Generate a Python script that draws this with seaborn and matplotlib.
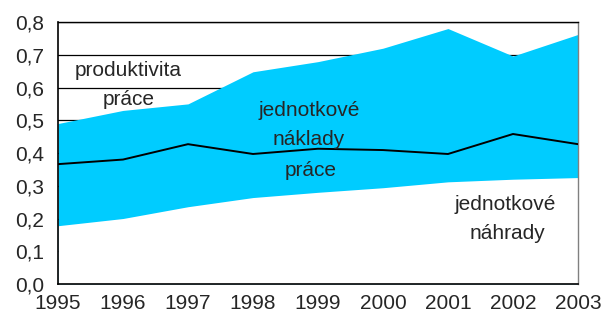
import matplotlib
matplotlib.use("Agg")
import matplotlib.pyplot as plt
import seaborn as sns
import pandas as pd

years = [1995, 1996, 1997, 1998, 1999, 2000, 2001, 2002, 2003]
produktivita = [0.49, 0.53, 0.55, 0.648, 0.679, 0.72, 0.78, 0.696, 0.762]
naklady = [0.366, 0.38, 0.427, 0.397, 0.413, 0.409, 0.397, 0.458, 0.427]
nahrady = [0.178, 0.20, 0.236, 0.264, 0.28, 0.294, 0.312, 0.32, 0.325]
y_ticks = [0.0, 0.1, 0.2, 0.3, 0.4, 0.5, 0.6, 0.7, 0.8]

sns.set_style("white")
plt.rcParams["font.family"] = ["Liberation Sans", "DejaVu Sans"]

df = pd.DataFrame({"rok": years, "produktivita": produktivita,
                   "naklady": naklady, "nahrady": nahrady})

fig = plt.figure(figsize=(6.03, 3.23), dpi=100)
ax = fig.add_axes([0.0962, 0.1207, 0.8623, 0.8112])

# horizontal grid, covered by the areas
for v in y_ticks[1:]:
    ax.axhline(v, color="black", lw=0.9, zorder=0)

# cyan area up to productivity, white area up to compensation on top of it
ax.fill_between(df["rok"], 0, df["produktivita"],
                color="#00CCFF", lw=0, zorder=1)
ax.fill_between(df["rok"], 0, df["nahrady"], color="white", lw=0, zorder=2)
sns.lineplot(data=df, x="rok", y="naklady", color="black", lw=1.4,
             ax=ax, zorder=3)

ax.set_xlim(1995, 2003)
ax.set_ylim(0, 0.8)
ax.set_xticks(years)
ax.set_xticklabels([str(y) for y in years])
ax.set_yticks(y_ticks)
ax.set_yticklabels([f"{v:.1f}".replace(".", ",") for v in y_ticks])
ax.set_xlabel("")
ax.set_ylabel("")
ax.tick_params(axis="both", direction="out", length=5, width=1,
               color="black", labelsize=15)
ax.tick_params(axis="y", pad=5)
ax.tick_params(axis="x", pad=2)

for side in ["left", "bottom"]:
    ax.spines[side].set_color("black")
    ax.spines[side].set_linewidth(1.2)
    ax.spines[side].set_zorder(4)
ax.spines["top"].set_color("black")
ax.spines["top"].set_linewidth(1.0)
ax.spines["right"].set_color("#808080")
ax.spines["right"].set_linewidth(1.0)

fs = 15
ax.text(1996.08, 0.653, "produktivita", ha="center", va="center", fontsize=fs)
ax.text(1996.08, 0.562, "práce", ha="center", va="center", fontsize=fs)
ax.text(1998.86, 0.531, "jednotkové", ha="center", va="center", fontsize=fs)
ax.text(1998.86, 0.440, "náklady", ha="center", va="center", fontsize=fs)
ax.text(1998.88, 0.348, "práce", ha="center", va="center", fontsize=fs)
ax.text(2001.88, 0.244, "jednotkové", ha="center", va="center", fontsize=fs)
ax.text(2001.92, 0.153, "náhrady", ha="center", va="center", fontsize=fs)

fig.savefig("out.png", dpi=100)
